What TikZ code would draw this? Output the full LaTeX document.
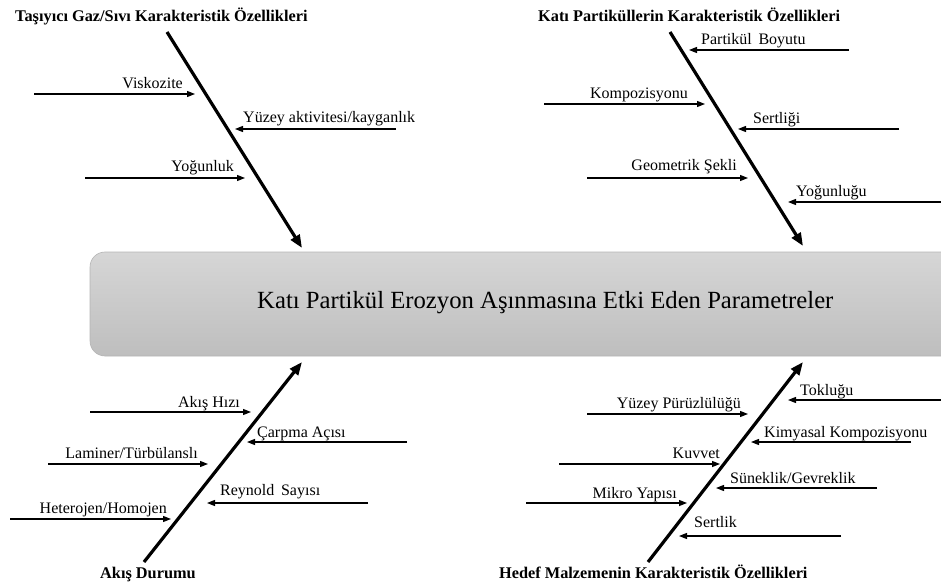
\documentclass[tikz,border=0pt]{standalone}
\usepackage{fontspec}
\setmainfont{Liberation Serif}
\usetikzlibrary{arrows.meta}
\definecolor{boxtop}{HTML}{D6D6D6}
\definecolor{boxbot}{HTML}{BEBEBE}
\definecolor{boxedge}{HTML}{B4B4B4}
\tikzset{
  bone/.style={line width=3.2pt,-{Triangle[length=13pt,width=10pt]}},
  rib/.style={line width=1.3pt,-{Triangle[length=8pt,width=6pt]}},
  lbl/.style={inner sep=0pt,font=\fontsize{16}{17}\selectfont},
  ttl/.style={inner sep=0pt,font=\fontsize{16.3}{17}\selectfont\bfseries},
}
\begin{document}
\begin{tikzpicture}[x=1pt,y=-1pt]
\useasboundingbox (0,0) rectangle (941,585);
% central box
\shade[top color=boxtop,bottom color=boxbot,draw=boxedge,line width=0.6pt,rounded corners=15pt] (90,252) rectangle (990,356);
\node[inner sep=0pt,anchor=base west,font=\fontsize{24.7}{26}\selectfont] (effect) at (257,308) {Katı Partikül Erozyon Aşınmasına Etki Eden Parametreler};

% ---------- top left
\node[ttl,anchor=base west] (t1) at (15,21.5) {Taşıyıcı Gaz/Sıvı Karakteristik Özellikleri};
\coordinate (b1s) at (167,32); \coordinate (b1e) at (302,248);
\draw[bone] (b1s) -- (b1e);
\coordinate (a1s) at (34,94);  \coordinate (a1e) at (195,94);
\coordinate (a2s) at (396,129); \coordinate (a2e) at (235,129);
\coordinate (a3s) at (85,178); \coordinate (a3e) at (245,178);
\draw[rib] (a1s) -- (a1e); \draw[rib] (a2s) -- (a2e); \draw[rib] (a3s) -- (a3e);
\node[lbl,anchor=base east] (l1) at (183,89) {Viskozite};
\node[lbl,anchor=base west] (l2) at (243,123) {Yüzey aktivitesi/kayganlık};
\node[lbl,anchor=base east] (l3) at (234,172) {Yoğunluk};

% ---------- top right
\node[ttl,anchor=base west] (t2) at (538,21.5) {Katı Partiküllerin Karakteristik Özellikleri};
\coordinate (b2s) at (670,32); \coordinate (b2e) at (803,246);
\draw[bone] (b2s) -- (b2e);
\coordinate (c1s) at (849,50);  \coordinate (c1e) at (689,50);
\coordinate (c2s) at (544,104); \coordinate (c2e) at (705,104);
\coordinate (c3s) at (899,129); \coordinate (c3e) at (738,129);
\coordinate (c4s) at (587,178); \coordinate (c4e) at (748,178);
\coordinate (c5s) at (945,202); \coordinate (c5e) at (788,202);
\draw[rib] (c1s) -- (c1e); \draw[rib] (c2s) -- (c2e); \draw[rib] (c3s) -- (c3e);
\draw[rib] (c4s) -- (c4e); \draw[rib] (c5s) -- (c5e);
\node[lbl,anchor=base west] (m1) at (701,45) {Partikül\, Boyutu};
\node[lbl,anchor=base east] (m2) at (688,99) {Kompozisyonu};
\node[lbl,anchor=base west] (m3) at (753,124) {Sertliği};
\node[lbl,anchor=base east] (m4) at (737,171) {Geometrik Şekli};
\node[lbl,anchor=base west] (m5) at (796,197) {Yoğunluğu};

% ---------- bottom left
\node[ttl,anchor=base west] (t3) at (100,578) {Akış Durumu};
\coordinate (b3s) at (144,562); \coordinate (b3e) at (302,362);
\draw[bone] (b3s) -- (b3e);
\coordinate (d1s) at (90,412);  \coordinate (d1e) at (251,412);
\coordinate (d2s) at (407,442); \coordinate (d2e) at (247,442);
\coordinate (d3s) at (48,464);  \coordinate (d3e) at (208,464);
\coordinate (d4s) at (368,503); \coordinate (d4e) at (207,503);
\coordinate (d5s) at (10,519);  \coordinate (d5e) at (171,519);
\draw[rib] (d1s) -- (d1e); \draw[rib] (d2s) -- (d2e); \draw[rib] (d3s) -- (d3e);
\draw[rib] (d4s) -- (d4e); \draw[rib] (d5s) -- (d5e);
\node[lbl,anchor=base east] (n1) at (240,407) {Akış Hızı};
\node[lbl,anchor=base west] (n2) at (257,437) {Çarpma Açısı};
\node[lbl,anchor=base east] (n3) at (198,458) {Laminer/Türbülanslı};
\node[lbl,anchor=base west] (n4) at (220,495) {Reynold\, Sayısı};
\node[lbl,anchor=base east] (n5) at (167,513) {Heterojen/Homojen};

% ---------- bottom right
\node[ttl,anchor=base west] (t4) at (499,578) {Hedef Malzemenin Karakteristik Özellikleri};
\coordinate (b4s) at (648,562); \coordinate (b4e) at (803,362);
\draw[bone] (b4s) -- (b4e);
\coordinate (e1s) at (945,400); \coordinate (e1e) at (788,400);
\coordinate (e2s) at (587,414); \coordinate (e2e) at (748,414);
\coordinate (e3s) at (911,442); \coordinate (e3e) at (751,442);
\coordinate (e4s) at (559,464); \coordinate (e4e) at (720,464);
\coordinate (e5s) at (877,488); \coordinate (e5e) at (716,488);
\coordinate (e6s) at (526,503); \coordinate (e6e) at (687,503);
\coordinate (e7s) at (841,536); \coordinate (e7e) at (679,536);
\draw[rib] (e1s) -- (e1e); \draw[rib] (e2s) -- (e2e); \draw[rib] (e3s) -- (e3e);
\draw[rib] (e4s) -- (e4e); \draw[rib] (e5s) -- (e5e); \draw[rib] (e6s) -- (e6e);
\draw[rib] (e7s) -- (e7e);
\node[lbl,anchor=base west] (o1) at (800,395) {Tokluğu};
\node[lbl,anchor=base east] (o2) at (741,408) {Yüzey Pürüzlülüğü};
\node[lbl,anchor=base west] (o3) at (764,437) {Kimyasal Kompozisyonu};
\node[lbl,anchor=base east] (o4) at (720,458) {Kuvvet};
\node[lbl,anchor=base west] (o5) at (730,483) {Süneklik/Gevreklik};
\node[lbl,anchor=base east] (o6) at (677,498) {Mikro Yapısı};
\node[lbl,anchor=base west] (o7) at (694,527) {Sertlik};
\end{tikzpicture}
\end{document}
